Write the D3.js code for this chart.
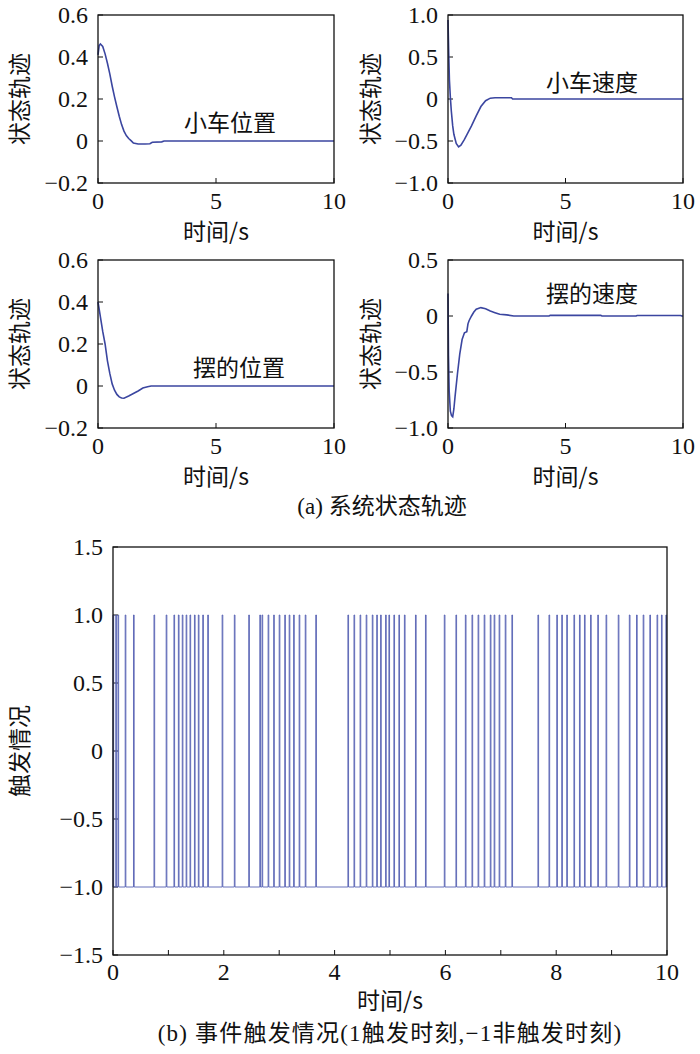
<!DOCTYPE html>
<html><head><meta charset="utf-8">
<script src="https://cdn.jsdelivr.net/npm/d3@7"></script>
<style>
body{margin:0;background:#fff}
svg text{font-family:"Liberation Serif","Times New Roman","Noto Sans CJK SC",serif;fill:#111}
.cjk{font-family:"Noto Sans CJK SC","Liberation Serif",sans-serif !important;}
</style>
</head><body><svg id="c" width="700" height="1054"></svg>
<script>
// ---- data ----
const cartPosT = [0,0.05,0.1,0.2,0.3,0.4,0.5,0.6,0.7,0.8,0.9,1.0,1.1,1.2,1.3,1.4,1.5,1.7,2.0,2.2,2.3,2.7,2.8,10];
const cartPosY = [0.41,0.455,0.462,0.45,0.415,0.37,0.32,0.262,0.21,0.163,0.118,0.078,0.047,0.026,0.012,0.002,-0.01,-0.014,-0.014,-0.013,-0.006,-0.004,0,0];

const cartVelT = [0,0.03,0.06,0.1,0.14,0.2,0.25,0.35,0.45,0.55,0.7,0.85,1.0,1.2,1.4,1.6,1.8,2.0,2.7,2.75,10];
const cartVelY = [0.94,0.55,0.23,0.02,-0.14,-0.32,-0.42,-0.53,-0.57,-0.55,-0.48,-0.4,-0.32,-0.2,-0.09,-0.02,0.01,0.015,0.015,0,0];

const pendPosT = [0,0.1,0.2,0.3,0.4,0.5,0.6,0.7,0.8,0.9,1.0,1.1,1.3,1.5,1.7,1.9,2.1,2.25,10];
const pendPosY = [0.40,0.33,0.26,0.20,0.12,0.06,0.01,-0.02,-0.04,-0.052,-0.057,-0.058,-0.048,-0.036,-0.024,-0.01,-0.004,0,0];

const pendVelT = [0,0.02,0.05,0.1,0.15,0.2,0.25,0.3,0.4,0.5,0.6,0.7,0.8,0.85,0.9,1.0,1.1,1.2,1.4,1.6,1.8,2.0,2.2,2.5,2.8,4.3,4.35,6.5,6.55,8.0,8.05,9.9,9.95,10];
const pendVelY = [0.2,-0.35,-0.67,-0.85,-0.89,-0.90,-0.83,-0.72,-0.52,-0.34,-0.21,-0.15,-0.14,-0.07,-0.04,0.0,0.035,0.06,0.075,0.065,0.045,0.03,0.015,0.01,0.0,0.0,0.006,0.006,0.0,0.0,0.005,0.005,0.0,0.0];

const eventTimes = [0.0,0.05,0.09,0.22,0.37,0.74,0.96,1.10,1.18,1.25,1.32,1.39,1.47,1.54,1.62,1.71,1.97,2.19,2.45,2.65,2.69,2.80,2.90,3.00,3.10,3.18,3.26,3.36,3.47,3.66,4.24,4.35,4.46,4.57,4.68,4.76,4.83,4.92,4.98,5.07,5.16,5.26,5.46,5.64,5.98,6.19,6.36,6.48,6.59,6.70,6.81,6.88,6.97,7.08,7.20,7.67,7.87,8.01,8.10,8.19,8.32,8.42,8.51,8.62,8.75,8.90,9.12,9.32,9.45,9.57,9.69,9.82,9.90,9.98];

const xTicksSmall = [0,5,10];
const xTicksBig = [0,1,2,3,4,5,6,7,8,9,10];
const xLabelsBig = [0,2,4,6,8,10];
const yTicksPos = [-0.2,0,0.2,0.4,0.6];
const yTicksCartVel = [-1,-0.5,0,0.5,1];
const yTicksPendVel = [-1,-0.5,0,0.5];
const yTicksEvent = [-1.5,-1,-0.5,0,0.5,1,1.5];

const xTitle = "时间/s";
const yTitle = "状态轨迹";
const yTitleEvent = "触发情况";
const captionA = "(a) 系统状态轨迹";
const captionB = "(b)  事件触发情况(1触发时刻,−1非触发时刻)";

// ---- drawing ----
const svg = d3.select("#c");
const lineColor = "#3b46a0";
const fmt = d => d === 0 ? "0" : d3.format(".1f")(d);

function panel(o){
  const x = d3.scaleLinear().domain([0,10]).range([o.x0,o.x1]);
  const y = d3.scaleLinear().domain(o.yDomain).range([o.y1,o.y0]);
  const g = svg.append("g");
  const tl = 5;
  g.selectAll(".xt").data(o.xTicks).join("line")
    .attr("x1",d=>x(d)).attr("x2",d=>x(d)).attr("y1",o.y1).attr("y2",o.y1-tl)
    .attr("stroke","#111").attr("stroke-width",1);
  g.selectAll(".yt").data(o.yTicks).join("line")
    .attr("x1",o.x0).attr("x2",o.x0+tl).attr("y1",d=>y(d)).attr("y2",d=>y(d))
    .attr("stroke","#111").attr("stroke-width",1);
  g.selectAll(".xl").data(o.xLabels).join("text")
    .attr("x",d=>x(d)).attr("y",o.y1+o.xlOff).attr("text-anchor","middle")
    .attr("font-size",o.fs).text(d=>d);
  g.selectAll(".yl").data(o.yTicks).join("text")
    .attr("x",o.x0-10).attr("y",d=>y(d)).attr("dy","0.35em").attr("text-anchor","end")
    .attr("font-size",o.fs).text(fmt);
  if(o.draw) o.draw(g,x,y);
  g.append("rect").attr("x",o.x0).attr("y",o.y0).attr("width",o.x1-o.x0).attr("height",o.y1-o.y0)
    .attr("fill","none").attr("stroke","#111").attr("stroke-width",1.3);
  g.append("text").attr("class","cjk").attr("x",(o.x0+o.x1)/2).attr("y",o.y1+o.xtOff)
    .attr("text-anchor","middle").attr("font-size",o.cfs).text(xTitle);
  g.append("text").attr("class","cjk").attr("transform",`translate(${o.ytX},${(o.y0+o.y1)/2}) rotate(-90)`)
    .attr("text-anchor","middle").attr("dy","0.35em").attr("font-size",o.cfs).text(o.yTitle);
  if(o.note){
    g.append("text").attr("class","cjk").attr("x",o.note[0]).attr("y",o.note[1])
      .attr("text-anchor","middle").attr("font-size",o.cfs).text(o.note[2]);
  }
  return {x,y,g};
}

function curve(T,Y){
  return (g,x,y)=>{
    const pts = T.map((t,i)=>[t,Y[i]]);
    g.append("path").datum(pts)
      .attr("d",d3.line().x(d=>x(d[0])).y(d=>y(d[1])))
      .attr("fill","none").attr("stroke",lineColor).attr("stroke-width",1.6);
  };
}

const common = {fs:24,cfs:23,xlOff:26,xtOff:57,xTicks:xTicksSmall,xLabels:xTicksSmall,yTitle:yTitle};

panel(Object.assign({},common,{x0:98,x1:334,y0:15,y1:183,yDomain:[-0.2,0.6],yTicks:yTicksPos,ytX:20,
  draw:curve(cartPosT,cartPosY),note:[230,131,"小车位置"]}));
panel(Object.assign({},common,{x0:448,x1:683,y0:15,y1:183,yDomain:[-1,1],yTicks:yTicksCartVel,ytX:371,
  draw:curve(cartVelT,cartVelY),note:[592,91,"小车速度"]}));
panel(Object.assign({},common,{x0:98,x1:334,y0:260,y1:428,yDomain:[-0.2,0.6],yTicks:yTicksPos,ytX:20,
  draw:curve(pendPosT,pendPosY),note:[239,376,"摆的位置"]}));
panel(Object.assign({},common,{x0:448,x1:683,y0:260,y1:428,yDomain:[-1,0.5],yTicks:yTicksPendVel,ytX:371,
  draw:curve(pendVelT,pendVelY),note:[592,302,"摆的速度"]}));

svg.append("text").attr("x",382).attr("y",514).attr("text-anchor","middle").attr("font-size",23).text(captionA);

panel({fs:24,cfs:23,xlOff:25,xtOff:54,x0:113,x1:667,y0:547,y1:955,yDomain:[-1.5,1.5],
  xTicks:xTicksBig,xLabels:xLabelsBig,yTicks:yTicksEvent,ytX:20,yTitle:yTitleEvent,
  draw:(g,x,y)=>{
    const w = 0.012;
    const pts = [[0,-1]];
    eventTimes.forEach(t=>{ pts.push([t,-1],[t,1],[t+w,1],[t+w,-1]); });
    pts.push([10,-1]);
    g.append("path").datum(pts)
      .attr("d",d3.line().x(d=>x(d[0])).y(d=>y(d[1])))
      .attr("fill","none").attr("stroke","#5560b2").attr("stroke-width",0.9);
  }});

svg.append("text").attr("x",390).attr("y",1041).attr("text-anchor","middle").attr("font-size",23)
  .attr("letter-spacing","1.2px").text(captionB);
</script>
</body></html>
